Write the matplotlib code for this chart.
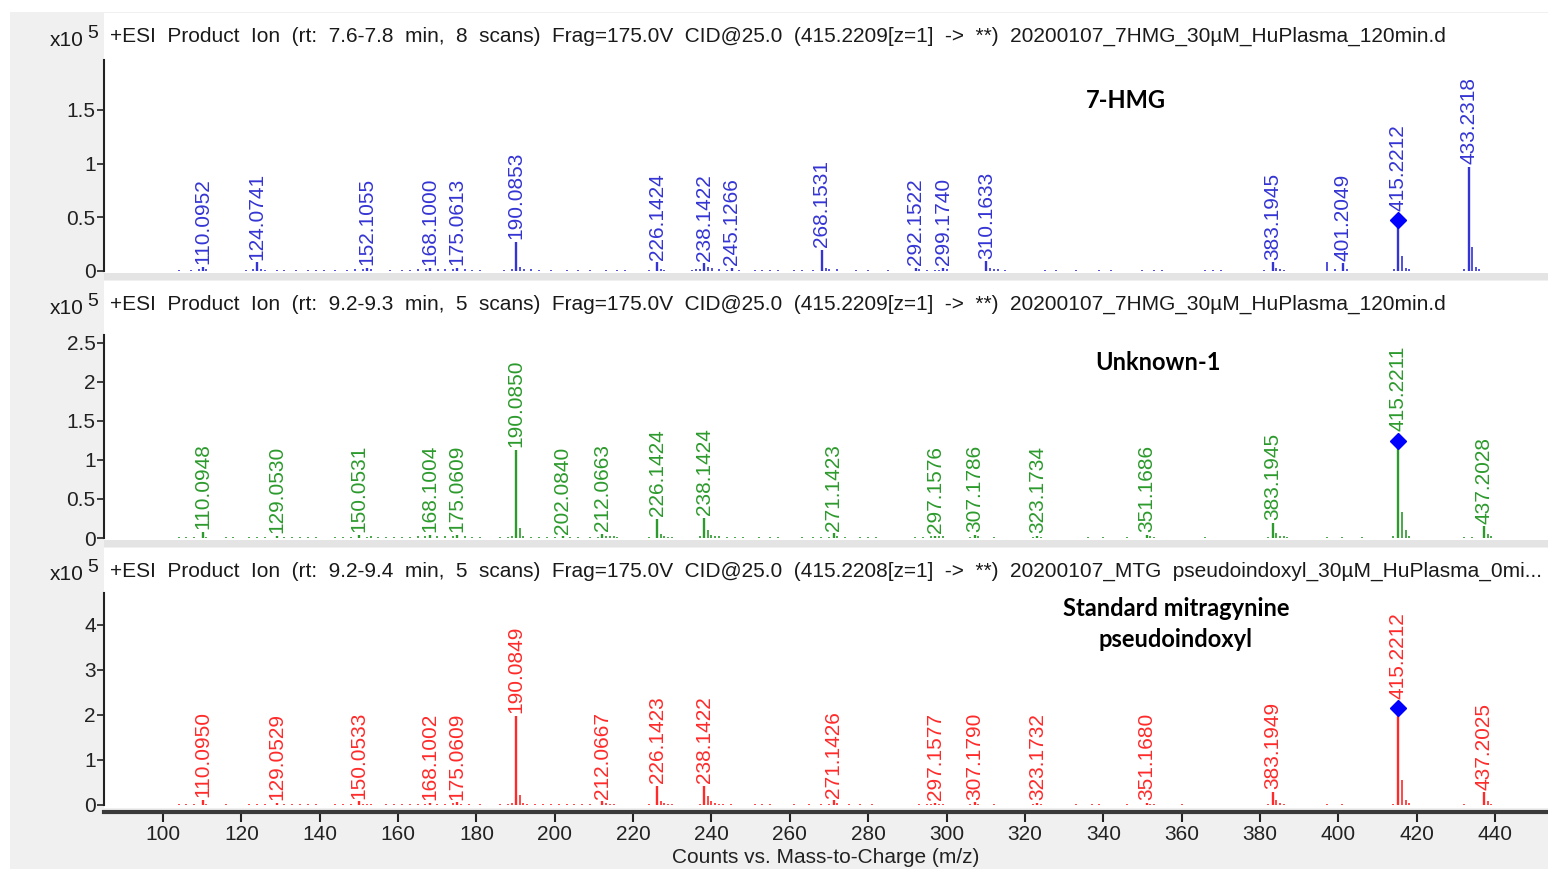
import matplotlib
matplotlib.use("Agg")
import matplotlib.pyplot as plt
from matplotlib.patches import Rectangle

# figure size in pixels
W, H = 1548, 869

# x axis
mz_ticks = list(range(100, 441, 20))
x_label = "Counts vs. Mass-to-Charge (m/z)"

# headers of the three spectra
header_1 = "+ESI  Product  Ion  (rt:  7.6-7.8  min,  8  scans)  Frag=175.0V  CID@25.0  (415.2209[z=1]  ->  **)  20200107_7HMG_30\u00b5M_HuPlasma_120min.d"
header_2 = "+ESI  Product  Ion  (rt:  9.2-9.3  min,  5  scans)  Frag=175.0V  CID@25.0  (415.2209[z=1]  ->  **)  20200107_7HMG_30\u00b5M_HuPlasma_120min.d"
header_3 = "+ESI  Product  Ion  (rt:  9.2-9.4  min,  5  scans)  Frag=175.0V  CID@25.0  (415.2208[z=1]  ->  **)  20200107_MTG  pseudoindoxyl_30\u00b5M_HuPlasma_0mi..."

# names written on each panel
name_1 = "7-HMG"
name_2 = "Unknown-1"
name_3 = "Standard mitragynine\npseudoindoxyl"

# ---- panel 1 : 7-HMG (x10^5 counts) ----
mz_lab_1 = [110.0952, 124.0741, 152.1055, 168.1000, 175.0613, 190.0853, 226.1424,
            238.1422, 245.1266, 268.1531, 292.1522, 299.1740, 310.1633, 383.1945,
            401.2049, 415.2212, 433.2318]
int_lab_1 = [0.04, 0.08, 0.03, 0.03, 0.03, 0.27, 0.08, 0.07, 0.03, 0.20, 0.03, 0.03,
             0.09, 0.08, 0.07, 0.47, 0.97]
mz_minor_1 = [104.1, 107.1, 109.1, 111.1, 121.1, 123.1, 125.1, 126.1, 129.0, 131.0, 134.0,
              137.0, 139.0, 141.0, 144.0, 147.0, 149.1, 151.1, 153.1, 158.0, 161.0, 163.0,
              165.1, 167.1, 170.1, 172.1, 174.1, 177.0, 179.0, 181.0, 187.0, 189.0, 191.1,
              192.1, 194.0, 196.0, 199.0, 203.0, 206.0, 209.0, 213.0, 216.0, 218.0, 224.0,
              227.1, 228.0, 235.0, 236.0, 237.0, 239.1, 240.1, 242.0, 244.0, 247.0, 251.0,
              253.0, 255.0, 257.0, 261.0, 263.0, 266.0, 269.2, 270.0, 272.0, 277.0, 280.0,
              285.0, 293.0, 295.0, 297.0, 298.0, 300.0, 311.0, 312.0, 313.0, 315.0, 325.0,
              328.0, 333.0, 339.0, 342.0, 350.0, 353.0, 355.0, 366.0, 368.0, 370.0, 381.0,
              384.2, 385.0, 386.0, 397.2, 399.2, 402.2, 414.2, 416.2, 417.2, 418.0, 432.0,
              434.2, 435.2, 436.0]
int_minor_1 = [0.01, 0.01, 0.015, 0.02, 0.01, 0.015, 0.02, 0.01, 0.01, 0.01, 0.01,
               0.01, 0.01, 0.01, 0.01, 0.01, 0.015, 0.02, 0.02, 0.01, 0.01, 0.01,
               0.015, 0.02, 0.02, 0.02, 0.015, 0.015, 0.01, 0.01, 0.01, 0.015, 0.04,
               0.02, 0.015, 0.01, 0.01, 0.01, 0.01, 0.01, 0.01, 0.01, 0.01, 0.01,
               0.02, 0.01, 0.01, 0.02, 0.02, 0.04, 0.03, 0.02, 0.01, 0.01, 0.01,
               0.01, 0.01, 0.01, 0.01, 0.01, 0.01, 0.03, 0.02, 0.015, 0.01, 0.01,
               0.01, 0.015, 0.01, 0.01, 0.01, 0.015, 0.03, 0.02, 0.02, 0.01, 0.01,
               0.01, 0.01, 0.01, 0.01, 0.01, 0.01, 0.01, 0.01, 0.01, 0.01, 0.01,
               0.03, 0.02, 0.01, 0.08, 0.02, 0.02, 0.02, 0.14, 0.03, 0.02, 0.02,
               0.22, 0.04, 0.02]

# ---- panel 2 : Unknown-1 (x10^5 counts) ----
mz_lab_2 = [110.0948, 129.0530, 150.0531, 168.1004, 175.0609, 190.0850, 202.0840,
            212.0663, 226.1424, 238.1424, 271.1423, 297.1576, 307.1786, 323.1734,
            351.1686, 383.1945, 415.2211, 437.2028]
int_lab_2 = [0.08, 0.03, 0.04, 0.04, 0.04, 1.13, 0.02, 0.05, 0.24, 0.26, 0.06, 0.03,
             0.04, 0.03, 0.04, 0.19, 1.24, 0.15]
mz_minor_2 = [104.0, 106.0, 108.0, 111.1, 116.0, 118.0, 122.0, 124.0, 126.0, 131.0, 133.0,
              135.0, 137.0, 139.0, 144.0, 146.0, 148.0, 152.0, 153.0, 155.0, 157.0, 159.0,
              161.0, 163.0, 165.0, 167.0, 170.0, 172.0, 174.0, 177.0, 179.0, 181.0, 186.0,
              188.0, 189.0, 191.1, 192.0, 194.0, 196.0, 198.0, 200.0, 204.0, 206.0, 209.0,
              211.0, 213.0, 214.0, 215.0, 216.0, 224.0, 227.1, 228.0, 229.0, 230.0, 237.0,
              239.1, 240.0, 241.0, 242.0, 244.0, 246.0, 248.0, 252.0, 255.0, 257.0, 263.0,
              266.0, 268.0, 270.0, 272.0, 274.0, 278.0, 280.0, 282.0, 292.0, 294.0, 296.0,
              298.0, 299.0, 306.0, 308.0, 312.0, 322.0, 324.0, 336.0, 340.0, 346.0, 352.0,
              353.0, 366.0, 382.0, 384.2, 385.0, 386.0, 387.0, 397.0, 401.0, 406.0, 414.0,
              416.2, 417.2, 418.0, 432.0, 434.0, 438.2, 439.0]
int_minor_2 = [0.01, 0.01, 0.01, 0.015, 0.01, 0.01, 0.01, 0.01, 0.01, 0.01, 0.01,
               0.01, 0.01, 0.01, 0.01, 0.01, 0.01, 0.01, 0.02, 0.01, 0.01, 0.01,
               0.01, 0.01, 0.02, 0.02, 0.02, 0.02, 0.02, 0.02, 0.01, 0.01, 0.01,
               0.01, 0.02, 0.13, 0.03, 0.01, 0.01, 0.01, 0.01, 0.01, 0.01, 0.01,
               0.01, 0.03, 0.02, 0.02, 0.01, 0.01, 0.05, 0.02, 0.01, 0.01, 0.03,
               0.10, 0.04, 0.02, 0.02, 0.01, 0.01, 0.01, 0.01, 0.01, 0.01, 0.01,
               0.01, 0.01, 0.01, 0.02, 0.01, 0.01, 0.01, 0.01, 0.01, 0.01, 0.02,
               0.02, 0.02, 0.01, 0.02, 0.01, 0.01, 0.01, 0.01, 0.01, 0.01, 0.02,
               0.01, 0.01, 0.01, 0.07, 0.03, 0.02, 0.01, 0.01, 0.01, 0.01, 0.02,
               0.33, 0.10, 0.03, 0.01, 0.01, 0.05, 0.02]

# ---- panel 3 : standard mitragynine pseudoindoxyl (x10^5 counts) ----
mz_lab_3 = [110.0950, 129.0529, 150.0533, 168.1002, 175.0609, 190.0849, 212.0667,
            226.1423, 238.1422, 271.1426, 297.1577, 307.1790, 323.1732, 351.1680,
            383.1949, 415.2212, 437.2025]
int_lab_3 = [0.12, 0.05, 0.08, 0.05, 0.06, 1.98, 0.08, 0.42, 0.42, 0.10, 0.05, 0.06,
             0.05, 0.05, 0.29, 2.15, 0.28]
mz_minor_3 = [104.0, 106.0, 108.0, 111.1, 116.0, 122.0, 124.0, 126.0, 131.0, 133.0, 135.0,
              137.0, 139.0, 144.0, 146.0, 148.0, 151.0, 152.0, 153.0, 157.0, 159.0, 161.0,
              163.0, 165.0, 167.0, 170.0, 172.0, 174.0, 176.0, 178.0, 181.0, 186.0, 188.0,
              189.0, 191.1, 192.0, 193.0, 195.0, 197.0, 199.0, 201.0, 203.0, 205.0, 207.0,
              209.0, 213.0, 214.0, 215.0, 224.0, 227.1, 228.0, 229.0, 230.0, 237.0, 239.1,
              240.0, 241.0, 242.0, 243.0, 245.0, 251.0, 253.0, 255.0, 261.0, 265.0, 268.0,
              270.0, 272.0, 275.0, 278.0, 281.0, 293.0, 295.0, 296.0, 298.0, 299.0, 306.0,
              308.0, 312.0, 322.0, 324.0, 333.0, 337.0, 339.0, 346.0, 352.0, 353.0, 360.0,
              382.0, 384.2, 385.0, 386.0, 397.0, 401.0, 414.0, 416.2, 417.2, 418.0, 432.0,
              438.2, 439.0]
int_minor_3 = [0.02, 0.02, 0.02, 0.03, 0.02, 0.02, 0.02, 0.02, 0.02, 0.02, 0.02,
               0.02, 0.02, 0.02, 0.02, 0.02, 0.02, 0.03, 0.02, 0.02, 0.02, 0.02,
               0.02, 0.03, 0.03, 0.03, 0.03, 0.04, 0.03, 0.02, 0.02, 0.02, 0.02,
               0.04, 0.22, 0.05, 0.03, 0.02, 0.02, 0.02, 0.02, 0.02, 0.02, 0.02,
               0.02, 0.05, 0.03, 0.02, 0.02, 0.08, 0.04, 0.02, 0.02, 0.03, 0.20,
               0.08, 0.04, 0.03, 0.02, 0.02, 0.02, 0.02, 0.02, 0.02, 0.02, 0.02,
               0.02, 0.04, 0.02, 0.02, 0.02, 0.02, 0.02, 0.03, 0.03, 0.02, 0.02,
               0.03, 0.02, 0.02, 0.02, 0.02, 0.02, 0.02, 0.02, 0.03, 0.02, 0.02,
               0.02, 0.10, 0.04, 0.02, 0.02, 0.02, 0.03, 0.55, 0.10, 0.04, 0.02,
               0.08, 0.03]

precursor = [415.2212, 415.2211, 415.2212]
precursor_int = [0.47, 1.24, 2.15]

# y axes
y_top = [1.963, 2.60, 4.71]
y_ticks = [[0, 0.5, 1, 1.5], [0, 0.5, 1, 1.5, 2, 2.5], [0, 1, 2, 3, 4]]

colors = ["#3434d4", "#2c9a2c", "#ff2a2a"]

# pixel layout of the three panels: (white top, axes top, y=0 row, white bottom)
rows = [(13, 60, 271, 273), (281, 335, 538, 540), (548, 593, 805, 808)]
x_left, x_right = 104, W
xlim = (84.95, 453.5)

plt.rcParams["font.family"] = ["Liberation Sans", "DejaVu Sans"]

fig = plt.figure(figsize=(W / 100, H / 100), dpi=100, facecolor="white")


def fx(x):
    return x / W


def fy(y):
    return 1 - y / H


# grey window background and white panels (behind the axes)
fig.patches.append(Rectangle((fx(10), 0), 1 - fx(10), fy(12), transform=fig.transFigure,
                             facecolor="#f0f0f0", edgecolor="none", zorder=-3))
for top, _, _, bottom in rows:
    fig.patches.append(Rectangle((fx(x_left), fy(bottom)), fx(x_right - x_left), (bottom - top) / H,
                                 transform=fig.transFigure, facecolor="white",
                                 edgecolor="none", zorder=-2))

headers = [header_1, header_2, header_3]
names = [name_1, name_2, name_3]
name_pos = [(1126, 100), (1158, 362), (1176, 624)]
lab_mz = [mz_lab_1, mz_lab_2, mz_lab_3]
lab_int = [int_lab_1, int_lab_2, int_lab_3]
minor_mz = [mz_minor_1, mz_minor_2, mz_minor_3]
minor_int = [int_minor_1, int_minor_2, int_minor_3]

for i in range(3):
    top, ax_top, zero, bottom = rows[i]
    if i == 2:
        ax_bottom = 812
        y_low = -(ax_bottom - zero) / (zero - ax_top) * y_top[i]
    else:
        ax_bottom = zero
        y_low = 0
    ax = fig.add_axes([fx(x_left), fy(ax_bottom), fx(x_right - x_left), (ax_bottom - ax_top) / H])
    ax.set_facecolor("none")
    ax.set_xlim(*xlim)
    ax.set_ylim(y_low, y_top[i])
    c = colors[i]

    ax.vlines(minor_mz[i], 0, minor_int[i], color=c, lw=1.2)
    ax.vlines(lab_mz[i], 0, lab_int[i], color=c, lw=1.7)
    for m, h in zip(lab_mz[i], lab_int[i]):
        gap = 7 if m == precursor[i] else 2
        ax.annotate(f"{m:.4f}", (m, h), xytext=(0, gap), textcoords="offset points",
                    rotation=90, ha="center", va="bottom", color=c, fontsize=15)
    ax.plot([precursor[i]], [precursor_int[i]], "D", color="#0000ff", ms=8, zorder=5)

    for s in ["top", "right"]:
        ax.spines[s].set_visible(False)
    ax.spines["left"].set_color("#222222")
    ax.spines["left"].set_linewidth(1.5)
    ax.spines["left"].set_bounds(0, y_top[i])
    ax.set_yticks(y_ticks[i])
    ax.set_yticklabels([f"{t:g}" for t in y_ticks[i]])
    ax.tick_params(axis="y", direction="out", length=5, width=1.2, labelsize=15,
                   colors="#222222", pad=1)
    if i < 2:
        ax.spines["bottom"].set_visible(False)
        ax.set_xticks([])
    else:
        ax.spines["bottom"].set_color("#3a3a3a")
        ax.spines["bottom"].set_linewidth(3)
        ax.set_xticks(mz_ticks)
        ax.tick_params(axis="x", direction="out", length=7, width=1.5, labelsize=15,
                       colors="#222222", pad=2)
        ax.set_xlabel(x_label, fontsize=15, color="#222222", labelpad=3)

    # grey strip under the panel
    if i < 2:
        fig.patches.append(Rectangle((fx(x_left), fy(bottom + 7)), fx(x_right - x_left), 7 / H,
                                     transform=fig.transFigure, facecolor="#e4e4e4",
                                     edgecolor="none", zorder=-1))

    hy = top + 23
    fig.text(fx(110), fy(hy), headers[i], ha="left", va="center", fontsize=15, color="#1a1a1a")
    fig.text(fx(84), fy(hy + 4), "x10", ha="right", va="center", fontsize=15, color="#1a1a1a")
    fig.text(fx(87), fy(hy - 3), "5", ha="left", va="center", fontsize=14, color="#1a1a1a")

    nx, ny = name_pos[i]
    fig.text(fx(nx), fy(ny), names[i], ha="center", va="center", fontsize=17,
             fontweight="bold", family="Lato", linespacing=1.45)

fig.savefig("out.png", dpi=100, facecolor=fig.get_facecolor())
